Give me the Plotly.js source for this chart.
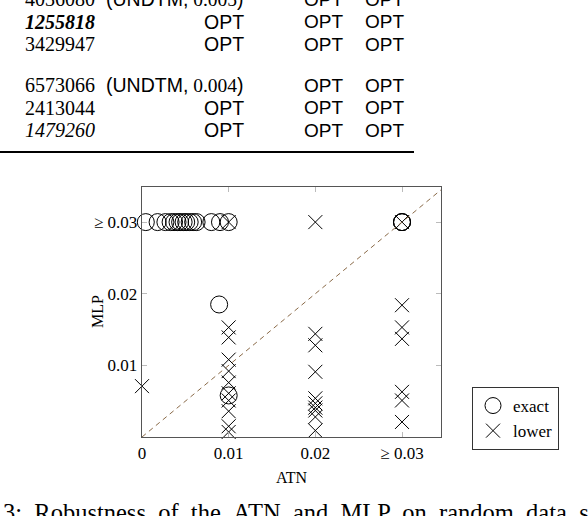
<!DOCTYPE html>
<html><head><meta charset="utf-8">
<script src="https://cdn.plot.ly/plotly-3.0.1.min.js"></script>
<style>html,body{margin:0;padding:0;background:#fff}</style>
</head><body><div id="chart" style="width:588px;height:516px"></div>
<script>
// ---- table rows shown above the figure ----
const tableIds    = ['4036080', '1255818', '3429947', '6573066', '2413044', '1479260'];
const tableMethod = ['(UNDTM, 0.005)', 'OPT', 'OPT', '(UNDTM, 0.004)', 'OPT', 'OPT'];
const tableCol3   = ['OPT', 'OPT', 'OPT', 'OPT', 'OPT', 'OPT'];
const tableCol4   = ['OPT', 'OPT', 'OPT', 'OPT', 'OPT', 'OPT'];
const boldItalicIds = ['1255818'];
const italicIds     = ['1479260'];

// ---- scatter data (ATN robustness vs MLP robustness) ----
const exactATN = [0.00044, 0.0018, 0.0027, 0.0033, 0.0037, 0.0041, 0.0044, 0.0048, 0.0051, 0.0055, 0.0059, 0.0063, 0.008, 0.0090, 0.01,
                  0.03, 0.03, 0.03, 0.0089, 0.01];
const exactMLP = [0.03, 0.03, 0.03, 0.03, 0.03, 0.03, 0.03, 0.03, 0.03, 0.03, 0.03, 0.03, 0.03, 0.03, 0.03,
                  0.03, 0.03, 0.03, 0.0185, 0.0058];

const lowerATN = [0,
                  0.01, 0.01, 0.01, 0.01, 0.01, 0.01, 0.01, 0.01, 0.01, 0.01, 0.01,
                  0.02, 0.02, 0.02, 0.02, 0.02, 0.02, 0.02, 0.02, 0.02, 0.02,
                  0.03, 0.03, 0.03, 0.03, 0.03, 0.03, 0.03];
const lowerMLP = [0.0071,
                  0.03, 0.0153, 0.0139, 0.0108, 0.0092, 0.0076, 0.0061, 0.0051, 0.0036, 0.0015, 0.0007,
                  0.03, 0.0144, 0.0128, 0.0091, 0.0054, 0.0047, 0.0041, 0.0037, 0.0028, 0.0009,
                  0.03, 0.0184, 0.0153, 0.0137, 0.0063, 0.0051, 0.0021];

const tickVals   = [0, 0.01, 0.02, 0.03];
const xTickText  = ['0', '0.01', '0.02', '≥ 0.03'];
const yTickVals  = [0.01, 0.02, 0.03];
const yTickText  = ['0.01', '0.02', '≥ 0.03'];
const diagonal   = [0, 0.035];
const captionText = '3: Robustness of the ATN and MLP on random data sets';

// ---- layout helpers (pixel -> paper) ----
const W = 588, H = 516;
const PL = 142, PR = 441, PT = 187, PB = 437;
const X = px => (px - PL) / (PR - PL);
const Y = py => (PB - py) / (PB - PT);

const SERIF = 'Liberation Serif';
const SANS = 'Liberation Sans';

const annotations = [];
const rowY = i => (i < 3 ? -1 + 22.7 * i : 85 + 22.7 * (i - 3));
function methodText(s) {
  const m = s.match(/^\((\w+), ([\d.]+)\)$/);
  if (m) return '<span style="font-family:' + SANS + '">(' + m[1] + ',</span> ' + m[2] + '<span style="font-family:' + SANS + '">)</span>';
  return '<span style="font-family:' + SANS + '">' + s + '</span>';
}
tableIds.forEach((id, i) => {
  let t = id;
  if (boldItalicIds.includes(id)) t = '<b><i>' + id + '</i></b>';
  else if (italicIds.includes(id)) t = '<i>' + id + '</i>';
  const y = Y(rowY(i));
  annotations.push({xref: 'paper', yref: 'paper', x: X(23), y: y, xanchor: 'left', yanchor: 'middle',
    text: t, showarrow: false, font: {family: SERIF, size: 20, color: '#000'}});
  annotations.push({xref: 'paper', yref: 'paper', x: X(246), y: y, xanchor: 'right', yanchor: 'middle',
    text: methodText(tableMethod[i]), showarrow: false, font: {family: SERIF, size: 19.5, color: '#000'}});
  annotations.push({xref: 'paper', yref: 'paper', x: X(345), y: y, xanchor: 'right', yanchor: 'middle',
    text: tableCol3[i], showarrow: false, font: {family: SANS, size: 19, color: '#000'}});
  annotations.push({xref: 'paper', yref: 'paper', x: X(406), y: y, xanchor: 'right', yanchor: 'middle',
    text: tableCol4[i], showarrow: false, font: {family: SANS, size: 19, color: '#000'}});
});
// y axis title
annotations.push({xref: 'paper', yref: 'paper', x: X(97), y: Y(312), xanchor: 'center', yanchor: 'middle',
  text: 'MLP', textangle: -90, showarrow: false, font: {family: SERIF, size: 16, color: '#000'}});
// caption (cut by page edge)
annotations.push({xref: 'paper', yref: 'paper', x: X(1), y: Y(512), xanchor: 'left', yanchor: 'middle',
  text: captionText.split(' ').join(' &nbsp;'), showarrow: false, font: {family: SERIF, size: 24.5, color: '#000'}});

const traces = [
  {type: 'scatter', mode: 'markers', name: 'exact', x: exactATN, y: exactMLP, cliponaxis: false,
   marker: {symbol: 'circle-open', size: 17, color: '#000', line: {width: 1, color: '#000'}}},
  {type: 'scatter', mode: 'markers', name: 'lower', x: lowerATN, y: lowerMLP, cliponaxis: false,
   marker: {symbol: 'x-thin-open', size: 14, color: '#000', line: {width: 1, color: '#000'}}},
  {type: 'scatter', mode: 'lines', x: diagonal, y: diagonal, showlegend: false, hoverinfo: 'skip', cliponaxis: true,
   line: {color: '#8a6a48', width: 1, dash: '5px,4px'}}
];

const axisCommon = {
  showgrid: false, zeroline: false, showline: true, linecolor: '#555', linewidth: 1.3, mirror: 'ticks',
  ticks: 'inside', ticklen: 5, tickcolor: '#bbb', tickwidth: 1,
  tickfont: {family: SERIF, size: 17, color: '#000'}, fixedrange: true
};

const layout = {
  width: W, height: H,
  margin: {l: PL, r: W - PR, t: PT, b: H - PB, pad: 0},
  paper_bgcolor: '#fff', plot_bgcolor: '#fff',
  xaxis: Object.assign({}, axisCommon, {range: [0, 0.0345], tickmode: 'array', tickvals: tickVals, ticktext: xTickText,
    title: {text: 'ATN', font: {family: SERIF, size: 16, color: '#000'}, standoff: 10}}),
  yaxis: Object.assign({}, axisCommon, {range: [0, 0.0349], tickmode: 'array', tickvals: yTickVals, ticktext: yTickText}),
  showlegend: true,
  legend: {x: X(472), y: Y(387), xanchor: 'left', yanchor: 'top', bgcolor: '#fff', bordercolor: '#333', borderwidth: 1,
    font: {family: SERIF, size: 17, color: '#000'}, itemwidth: 30, tracegroupgap: 0},
  shapes: [{type: 'line', xref: 'paper', yref: 'paper', x0: X(0), x1: X(414), y0: Y(152), y1: Y(152),
    line: {color: '#000', width: 2}}],
  annotations: annotations
};

Plotly.newPlot('chart', traces, layout, {displayModeBar: false, staticPlot: true});
</script></body></html>
